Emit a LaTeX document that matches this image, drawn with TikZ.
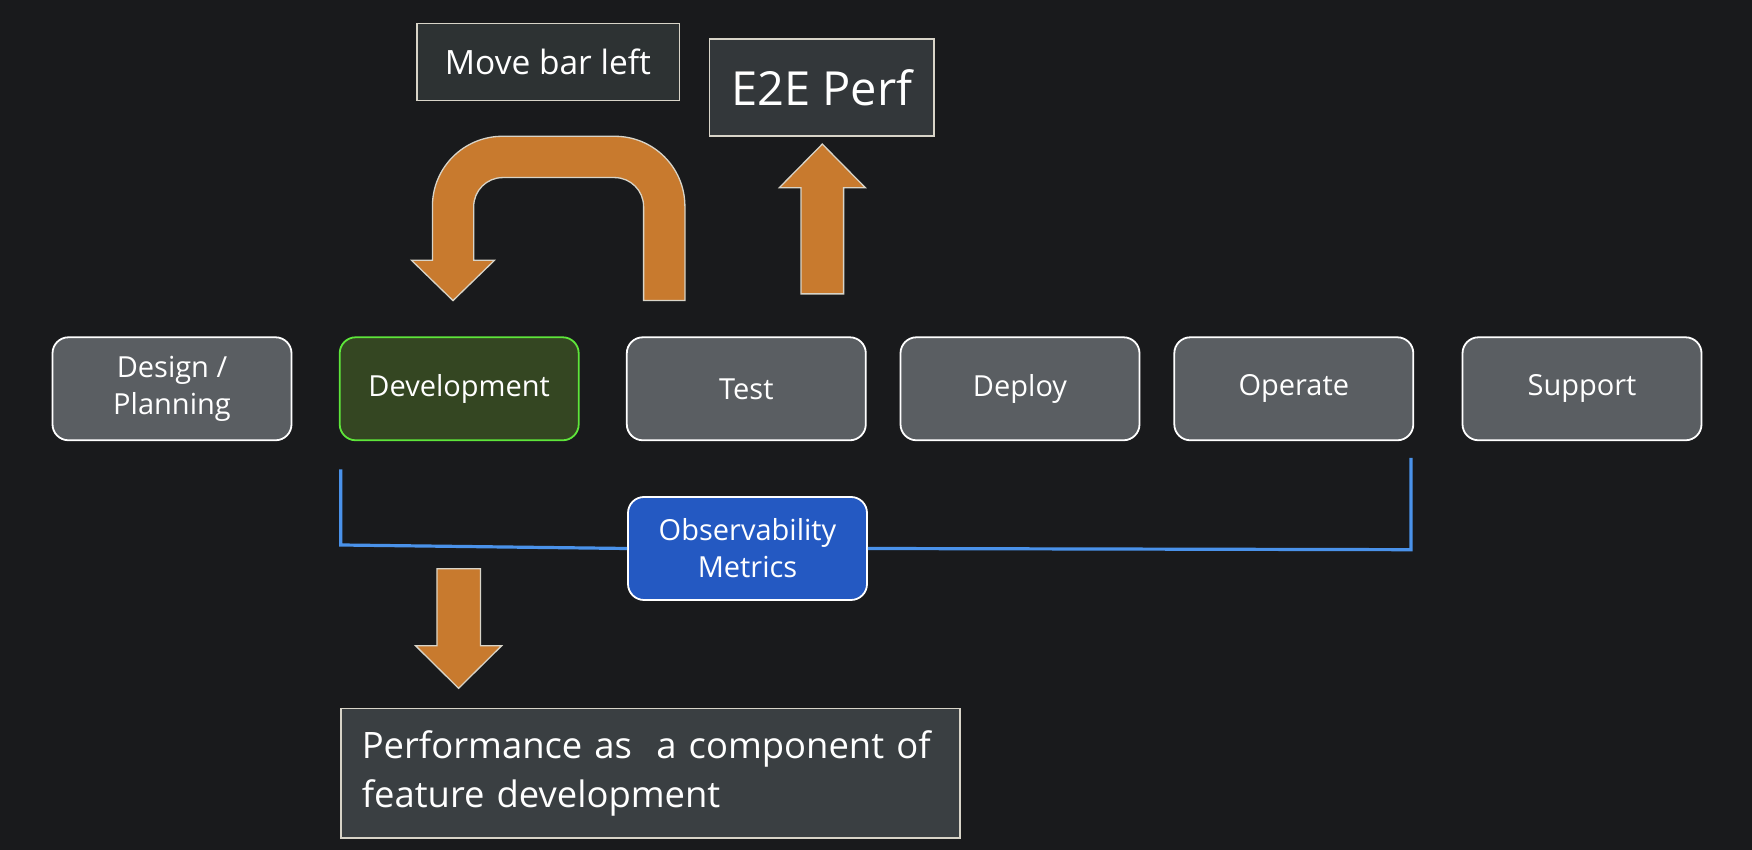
\documentclass[tikz,border=0pt]{standalone}
\usepackage{fontspec}
\setmainfont{Open Sans}
\definecolor{bg}{HTML}{191A1C}
\definecolor{boxgray}{HTML}{5A5E62}
\definecolor{devfill}{HTML}{344622}
\definecolor{devline}{HTML}{5EE63A}
\definecolor{obsfill}{HTML}{2459C2}
\definecolor{arrorange}{HTML}{C87A2E}
\definecolor{noteline}{HTML}{D8D4C8}
\definecolor{notefillA}{HTML}{2D3233}
\definecolor{notefillB}{HTML}{33373A}
\definecolor{notefillC}{HTML}{3A3F42}
\definecolor{obsline}{HTML}{4A92EA}
\tikzset{
  stage/.style={draw=white, line width=1.8pt, fill=boxgray, rounded corners=16pt,
    minimum width=239pt, minimum height=103pt, inner sep=0pt, text=white,
    align=center, font=\fontsize{29}{37}\selectfont},
  note/.style={draw=noteline, line width=1.5pt, inner sep=0pt, text=white},
  fatarrow/.style={fill=arrorange, draw=noteline, line width=1.3pt},
  obsl/.style={draw=obsline, line width=3.2pt},
}
\begin{document}
\begin{tikzpicture}[x=1pt,y=1pt]
\fill[bg] (0,0) rectangle (1752,850);
\useasboundingbox (0,0) rectangle (1752,850);

% stages
\node[stage] (design) at (172,461.2) {Design /\\Planning};
\node[stage, fill=devfill, draw=devline] (dev) at (459.2,461.2) {Development};
\node[stage] (test) at (746.3,461.2) {Test};
\node[stage] (deploy) at (1020,461.2) {Deploy};
\node[stage] (operate) at (1293.8,461.2) {Operate};
\node[stage] (support) at (1582,461.2) {Support};

% observability
\node[stage, fill=obsfill] (obs) at (747.5,301.5) {Observability\\Metrics};
\coordinate (lt) at (340.8,380.7);
\coordinate (lc) at (340.8,305);
\coordinate (rc) at (1411,300.3);
\coordinate (rt) at (1411,392);
\draw[obsl] (lt) -- (lc) -- (obs.west);
\draw[obsl] (obs.east) -- (rc) -- (rt);

% notes
\node[note, fill=notefillA, minimum width=262.5pt, minimum height=77pt,
  font=\fontsize{33.5}{38}\selectfont] (move) at (548,788) {Move bar left};
\node[note, fill=notefillB, minimum width=224.5pt, minimum height=97pt,
  font=\fontsize{47}{52}\selectfont] (e2e) at (821.7,762.3) {E2E Perf};
\node[note, fill=notefillC, minimum width=619pt, minimum height=129.6pt,
  text width=577pt, inner xsep=21pt, align=left,
  font=\fontsize{36.4}{49}\selectfont] (perf) at (650.3,76.8)
  {Performance as\ \ a component of\\feature development};

% U-turn arrow
\draw[fatarrow] (643.6,549.4) -- (684.9,549.4) -- (684.9,643.7)
  arc[start angle=0, end angle=90, radius=70] -- (502.4,713.7)
  arc[start angle=90, end angle=180, radius=70] -- (432.4,589.7)
  -- (411.5,589.7) -- (453,549.4) -- (494.5,589.7) -- (473.7,589.7)
  -- (473.7,643.4) arc[start angle=180, end angle=90, radius=29]
  -- (614.6,672.4) arc[start angle=90, end angle=0, radius=29] -- cycle;

% up arrow
\draw[fatarrow] (801,556.1) -- (843.6,556.1) -- (843.6,662.3) -- (865.3,662.3)
  -- (822.3,705.9) -- (779.3,662.3) -- (801,662.3) -- cycle;

% down arrow
\draw[fatarrow] (436.9,281.3) -- (480.4,281.3) -- (480.4,204.2) -- (501.6,204.2)
  -- (458.6,161.7) -- (415.6,204.2) -- (436.9,204.2) -- cycle;
\end{tikzpicture}
\end{document}
